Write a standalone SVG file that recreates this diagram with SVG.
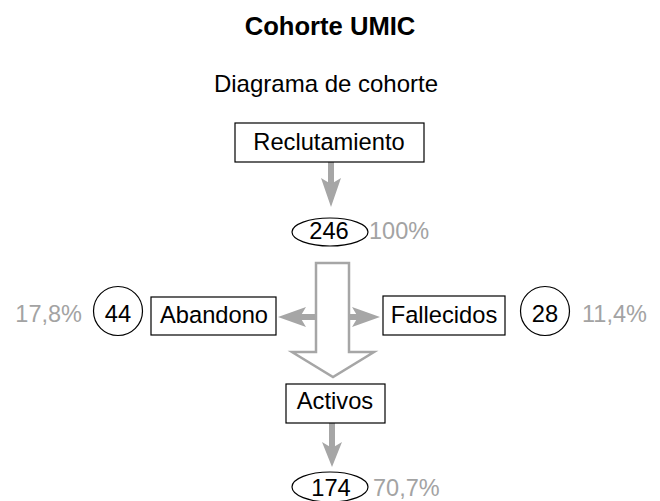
<svg xmlns="http://www.w3.org/2000/svg" width="660" height="501" viewBox="0 0 660 501">
<style>
text{font-family:"Liberation Sans",Arial,sans-serif;fill:#000}
.t{font-size:23.7px;text-anchor:middle}
.p{font-size:23.5px;fill:#a3a3a3}
.box{fill:#fff;stroke:#000;stroke-width:1.2}
.ov{fill:#fff;stroke:#000;stroke-width:1.2}
.sh{stroke:#a6a6a6;stroke-width:6;fill:none}
.hd{fill:#a6a6a6;stroke:none}
</style>
<rect width="660" height="501" fill="#fff"/>
<text x="330" y="35" style="font-size:25.6px;font-weight:bold" text-anchor="middle">Cohorte UMIC</text>
<text x="326" y="92" style="font-size:24px" text-anchor="middle">Diagrama de cohorte</text>
<g id="connectors">
<line class="sh" x1="331" y1="162" x2="331" y2="190"/>
<polygon class="hd" points="331,207 321,178 331,184 341,178"/>
<polygon points="316,263 349,263 349,352 374,352 333,377 292,352 316,352" fill="#fff" stroke="#a6a6a6" stroke-width="2.5"/>
<line class="sh" x1="315" y1="317" x2="298" y2="317"/>
<polygon class="hd" points="278,317 306,307 300,317 306,327"/>
<line class="sh" x1="350" y1="317" x2="362" y2="317"/>
<polygon class="hd" points="380,317 352,307 358,317 352,327"/>
<line class="sh" x1="332" y1="423" x2="332" y2="450"/>
<polygon class="hd" points="332,467 322,442 332,448 342,442"/>
</g>
<g id="reclutamiento"><rect class="box" x="235" y="123" width="189" height="39"/><text class="t" x="329" y="150">Reclutamiento</text></g>
<g id="n246"><ellipse class="ov" cx="330" cy="232" rx="38" ry="14"/><text class="t" x="329" y="239">246</text><text class="p" x="369" y="239">100%</text></g>
<g id="abandono"><rect class="box" x="151" y="297" width="125" height="38"/><text class="t" x="214" y="323">Abandono</text></g>
<g id="n44"><circle class="ov" cx="118" cy="311" r="24.5"/><text class="t" x="118" y="322">44</text><text class="p" x="82" y="322" text-anchor="end">17,8%</text></g>
<g id="fallecidos"><rect class="box" x="383" y="296" width="122" height="39"/><text class="t" x="444" y="323">Fallecidos</text></g>
<g id="n28"><circle class="ov" cx="545" cy="311" r="24.5"/><text class="t" x="545" y="322">28</text><text class="p" x="582" y="322">11,4%</text></g>
<g id="activos"><rect class="box" x="286" y="384" width="99" height="39"/><text class="t" x="335" y="409">Activos</text></g>
<g id="n174"><ellipse class="ov" cx="330" cy="487" rx="38" ry="15"/><text class="t" x="331" y="496">174</text><text class="p" x="373" y="496">70,7%</text></g>
</svg>
